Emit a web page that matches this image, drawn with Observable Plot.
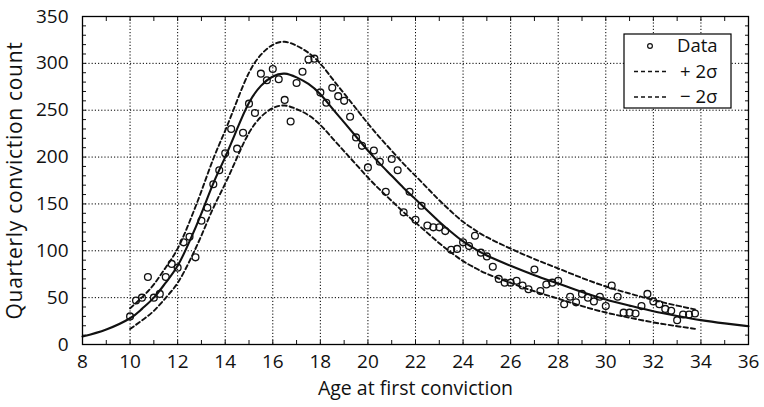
<!DOCTYPE html>
<html>
<head>
<meta charset="utf-8">
<script src="https://cdn.jsdelivr.net/npm/d3@7"></script>
<script src="https://cdn.jsdelivr.net/npm/@observablehq/plot@0.6"></script>
<style>
  html, body { margin: 0; padding: 0; background: #fff; }
  #chart { width: 764px; height: 407px; }
</style>
</head>
<body>
<div id="chart"></div>
<script>
// Quarterly counts of first convictions by age (one observation per quarter)
const ages = [
  10, 10.25, 10.5, 10.75, 11, 11.25, 11.5, 11.75, 12, 12.25, 12.5, 12.75,
  13, 13.25, 13.5, 13.75, 14, 14.25, 14.5, 14.75, 15, 15.25, 15.5, 15.75,
  16, 16.25, 16.5, 16.75, 17, 17.25, 17.5, 17.75, 18, 18.25, 18.5, 18.75,
  19, 19.25, 19.5, 19.75, 20, 20.25, 20.5, 20.75, 21, 21.25, 21.5, 21.75,
  22, 22.25, 22.5, 22.75, 23, 23.25, 23.5, 23.75, 24, 24.25, 24.5, 24.75,
  25, 25.25, 25.5, 25.75, 26, 26.25, 26.5, 26.75, 27, 27.25, 27.5, 27.75,
  28, 28.25, 28.5, 28.75, 29, 29.25, 29.5, 29.75, 30, 30.25, 30.5, 30.75,
  31, 31.25, 31.5, 31.75, 32, 32.25, 32.5, 32.75, 33, 33.25, 33.5, 33.75
];
const counts = [
  30, 47, 50, 72, 50, 54, 72, 86, 82, 109, 115, 93,
  132, 146, 171, 186, 204, 230, 209, 226, 257, 247, 289, 282,
  294, 283, 261, 238, 279, 291, 304, 305, 269, 258, 274, 265,
  260, 243, 221, 212, 189, 207, 195, 163, 198, 186, 141, 163,
  133, 148, 127, 125, 125, 121, 101, 102, 109, 105, 116, 98,
  94, 83, 70, 66, 66, 68, 63, 59, 80, 57, 64, 66,
  68, 43, 51, 45, 54, 50, 46, 51, 41, 63, 51, 34,
  34, 33, 41, 54, 46, 43, 38, 36, 26, 32, 32, 33
];

// Fitted curve
const fitAges = [8, 9, 10, 10.5, 11, 11.5, 12, 12.5, 13, 13.5, 14, 14.5, 15, 15.5, 16, 16.5,
  17, 17.5, 18, 18.5, 19, 19.5, 20, 20.5, 21, 21.5, 22, 22.5, 23, 23.5, 24, 24.5, 25,
  26, 27, 28, 29, 30, 31, 32, 33, 34, 35, 36];
const fitCounts = [8.5, 16, 28, 38, 50, 66, 84, 110, 140, 172, 200, 230, 258, 276, 286, 289,
  285, 278, 267, 252, 237, 222, 207, 193, 180, 167, 155, 143, 131, 120, 110, 102, 95,
  84, 74, 65, 56, 48, 41.5, 35.5, 30.5, 26, 22.5, 19.5];

// ±2σ band around the fit, over the observed age range
const bandAges = [10, 10.5, 11, 11.5, 12, 12.5, 13, 13.5, 14, 14.5, 15, 15.5, 16, 16.5, 17,
  17.5, 18, 18.5, 19, 19.5, 20, 20.5, 21, 21.5, 22, 22.5, 23, 23.5, 24, 24.5, 25,
  26, 27, 28, 29, 30, 31, 32, 33, 33.75];
const bandUpper = [38.6, 50.3, 64.1, 82.2, 102.3, 131, 163.7, 198.2, 228.3, 260.3, 290.1, 309.2,
  319.8, 323, 318.8, 311.3, 299.7, 283.7, 267.8, 251.8, 235.8, 220.8, 206.8, 192.8, 179.9,
  166.9, 153.9, 141.9, 131, 122.2, 114.5, 102.3, 91.2, 81.1, 71, 61.9, 54.4, 47.4, 41.5, 37.5];
const bandLower = [16.5, 25.7, 35.9, 49.8, 65.7, 89, 116.3, 145.8, 171.7, 199.7, 225.9, 242.8,
  252.2, 255, 251.2, 244.7, 234.3, 220.3, 206.2, 192.2, 178.2, 165.2, 153.2, 141.2, 130.1,
  119.1, 108.1, 98.1, 89, 81.8, 75.5, 65.7, 56.8, 48.9, 41, 34.1, 28.6, 23.6, 19.5, 16.7];

// Axis ticks
const xTickLabels = [8, 10, 12, 14, 16, 18, 20, 22, 24, 26, 28, 30, 32, 34, 36];
const xMinorTicks = d3.range(8, 37, 1);
const xGridLines = [10, 12, 14, 16, 18, 20, 22, 24, 26, 28, 30, 32, 34];
const yTickLabels = [0, 50, 100, 150, 200, 250, 300, 350];
const yMinorTicks = d3.range(0, 351, 10);
const yGridLines = [50, 100, 150, 200, 250, 300];

const legendLabels = ["Data", "+ 2σ", "− 2σ"];
const xLabel = "Age at first conviction";
const yLabel = "Quarterly conviction count";

const data = ages.map((a, i) => ({age: a, count: counts[i]}));
const fit = fitAges.map((a, i) => ({age: a, count: fitCounts[i]}));
const band = bandAges.map((a, i) => ({age: a, upper: bandUpper[i], lower: bandLower[i]}));

const ink = "#111";
const grid = {stroke: "#000", strokeOpacity: 1, strokeWidth: 1, strokeDasharray: "1.2,2"};
const dashed = {stroke: ink, strokeWidth: 1.9, strokeDasharray: "4.5,3", curve: "natural"};
const tickFont = 19;

const svg = Plot.plot({
  width: 764,
  height: 407,
  marginLeft: 82,
  marginRight: 16,
  marginTop: 16,
  marginBottom: 63,
  x: {domain: [8, 36]},
  y: {domain: [0, 350]},
  style: {fontFamily: "'Open Sans', 'Noto Sans', sans-serif", fontSize: "18px", color: ink, background: "#fff"},
  marks: [
    Plot.gridX(xGridLines, grid),
    Plot.gridY(yGridLines, grid),
    Plot.line(band, {x: "age", y: "upper", ...dashed}),
    Plot.line(band, {x: "age", y: "lower", ...dashed}),
    Plot.line(fit, {x: "age", y: "count", stroke: ink, strokeWidth: 2.1, curve: "natural"}),
    Plot.dot(data, {x: "age", y: "count", r: 3.4, stroke: ink, strokeWidth: 1.3, fill: "none"}),
    Plot.axisX({ticks: xMinorTicks, anchor: "bottom", tickSize: -4, fill: "none", label: null}),
    Plot.axisX({ticks: xMinorTicks, anchor: "top", tickSize: -4, fill: "none", label: null}),
    Plot.axisX({ticks: xTickLabels, anchor: "bottom", tickSize: 0, tickPadding: 10, fontSize: tickFont, label: null}),
    Plot.axisY({ticks: yMinorTicks, anchor: "left", tickSize: -4, fill: "none", label: null}),
    Plot.axisY({ticks: yMinorTicks, anchor: "right", tickSize: -4, fill: "none", label: null}),
    Plot.axisY({ticks: yTickLabels, anchor: "left", tickSize: 0, tickPadding: 14, fontSize: tickFont, label: null}),
    Plot.frame({stroke: "#000", strokeWidth: 1.3}),
    Plot.text([xLabel], {text: d => d, frameAnchor: "bottom", dy: 50, fontSize: 19.5, fill: ink}),
    Plot.text([yLabel], {text: d => d, frameAnchor: "left", textAnchor: "middle", dx: -67, rotate: -90, fontSize: 21, fill: ink})
  ]
});

// Slightly open tracking on the vertical axis title
svg.querySelectorAll("text").forEach(t => {
  if (t.textContent === yLabel) t.style.letterSpacing = "0.7px";
});

// Legend box in the upper right of the plot
const lg = d3.select(svg).append("g").attr("fill", ink).attr("text-anchor", "start").style("font-size", "18.5px");
lg.append("rect").attr("x", 624).attr("y", 34).attr("width", 107).attr("height", 74)
  .attr("fill", "#fff").attr("stroke", "#000").attr("stroke-width", 1.2);
legendLabels.forEach((label, i) => {
  const cy = 46 + i * 25.5;
  if (i === 0) {
    lg.append("circle").attr("cx", 650).attr("cy", cy).attr("r", 2.4)
      .attr("fill", "none").attr("stroke", ink).attr("stroke-width", 1.2);
  } else {
    lg.append("line").attr("x1", 634).attr("x2", 667).attr("y1", cy).attr("y2", cy)
      .attr("stroke", ink).attr("stroke-width", 1.6).attr("stroke-dasharray", "4,3");
  }
  lg.append("text").attr("x", i === 0 ? 677 : 680).attr("y", cy).attr("dy", "0.35em").text(label);
});

document.getElementById("chart").appendChild(svg);
</script>
</body>
</html>
